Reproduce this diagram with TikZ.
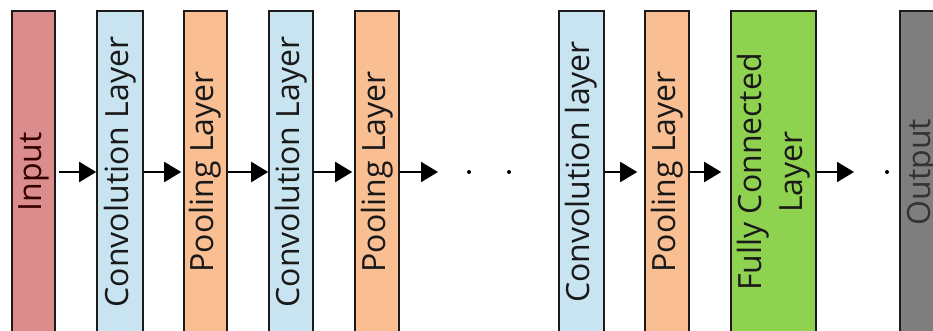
\documentclass[tikz,border=0pt]{standalone}
\usepackage{fontspec}
\usepackage{graphicx}
\setmainfont{Open Sans}
\usetikzlibrary{arrows.meta}

\definecolor{inputfill}{HTML}{DB8C8C}
\definecolor{convfill}{HTML}{C8E4F1}
\definecolor{poolfill}{HTML}{F9BF93}
\definecolor{fcfill}{HTML}{8FD24F}
\definecolor{outfill}{HTML}{7E7E7E}
\definecolor{edgeline}{HTML}{1E1A1A}

\newcommand{\uptext}[1]{\rotatebox{90}{\begin{tabular}{@{}c@{}}#1\end{tabular}}}

\tikzset{
  layer/.style={draw=edgeline, line width=1.6pt, rectangle, inner sep=0pt,
    minimum height=322pt, align=center,
    font=\fontsize{32}{41}\selectfont, text=black!90},
  flow/.style={line width=2pt, -{Triangle[length=17pt,width=20pt]}},
  gapdot/.style={fill=black, draw=none, circle, minimum size=4pt, inner sep=0pt}
}

\begin{document}
\begin{tikzpicture}[x=1pt,y=1pt]
  \useasboundingbox (0,0) rectangle (933,330);
  \clip (0,0) rectangle (933,330);

  % layer columns
  \node[layer, fill=inputfill, minimum width=43pt, text=black!80!red] (in) at (33.5,158) {\uptext{Input}};
  \node[layer, fill=convfill, minimum width=46pt] (c1) at (120,158) {\uptext{Convolution Layer}};
  \node[layer, fill=poolfill, minimum width=43pt] (p1) at (205.5,158) {\uptext{Pooling Layer}};
  \node[layer, fill=convfill, minimum width=44pt] (c2) at (291,158) {\uptext{Convolution Layer}};
  \node[layer, fill=poolfill, minimum width=44pt] (p2) at (377,158) {\uptext{Pooling Layer}};
  \node[layer, fill=convfill, minimum width=45pt] (c3) at (581.5,158) {\uptext{Convolution layer}};
  \node[layer, fill=poolfill, minimum width=44pt] (p3) at (667,158) {\uptext{Pooling Layer}};
  \node[layer, fill=fcfill, minimum width=85pt] (fc) at (773.5,158) {\uptext{Fully Connected\\Layer}};
  \node[layer, fill=outfill, minimum width=44pt, text=black!80] (out) at (922,158) {\uptext{Output}};

  % free ends of the open arrows
  \coordinate (gapA) at (438,158);
  \coordinate (gapB) at (854,158);

  % connectors
  \draw[flow] ([xshift=3pt]in.east) -- (c1.west);
  \draw[flow] (c1.east) -- ([xshift=-2pt]p1.west);
  \draw[flow] (p1.east) -- (c2.west);
  \draw[flow] (c2.east) -- ([xshift=-2pt]p2.west);
  \draw[flow] (p2.east) -- (gapA);
  \draw[flow] (c3.east) -- ([xshift=-7pt]p3.west);
  \draw[flow] (p3.east) -- ([xshift=-9pt]fc.west);
  \draw[flow] (fc.east) -- (gapB);

  % ellipsis dots
  \node[gapdot] (d1) at (469,158) {};
  \node[gapdot] (d2) at (509,158) {};
  \node[gapdot] (d3) at (887,158) {};
\end{tikzpicture}
\end{document}
